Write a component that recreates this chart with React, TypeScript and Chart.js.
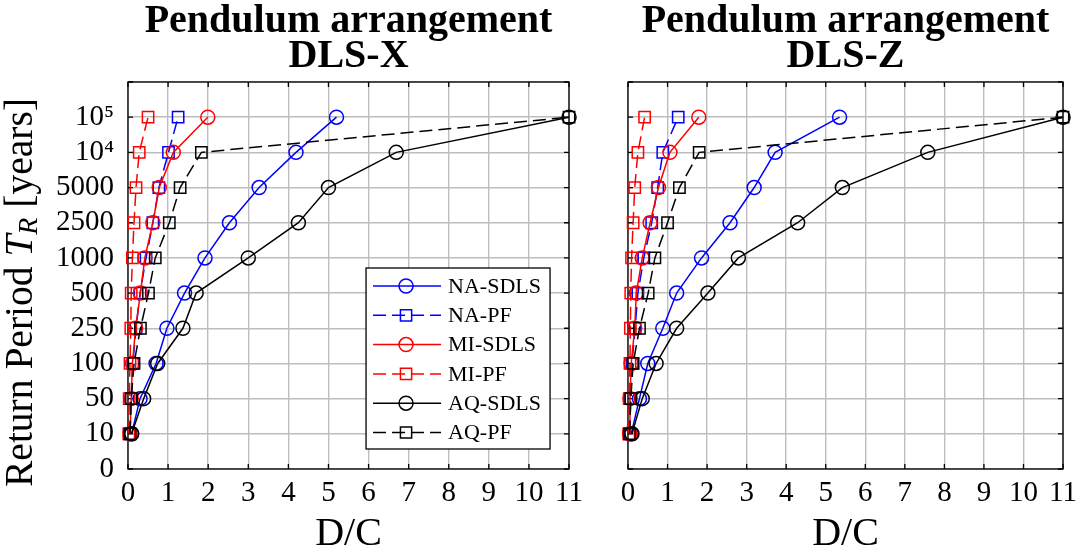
import { useEffect, useRef } from "react"
import { Chart, registerables } from "chart.js"

Chart.register(...registerables)

// return periods, bottom to top (index 0 of the axis is "0")
const periods = ["10", "50", "100", "250", "500", "1000", "2500", "5000", "10⁴", "10⁵"]
const yTickLabels = ["0", ...periods]

const seriesNames = ["NA-SDLS", "NA-PF", "MI-SDLS", "MI-PF", "AQ-SDLS", "AQ-PF"]

// D/C values, DLS-X
const naSdlsX = [0.09, 0.3, 0.7, 0.97, 1.41, 1.92, 2.53, 3.27, 4.19, 5.2]
const naPfX = [0.05, 0.08, 0.12, 0.2, 0.3, 0.45, 0.62, 0.77, 1.01, 1.25]
const miSdlsX = [0.05, 0.08, 0.11, 0.19, 0.31, 0.42, 0.62, 0.78, 1.13, 1.99]
const miPfX = [0.02, 0.03, 0.05, 0.07, 0.08, 0.11, 0.15, 0.2, 0.28, 0.5]
const aqSdlsX = [0.09, 0.39, 0.74, 1.37, 1.7, 3.0, 4.25, 5.0, 6.69, 11.0]
const aqPfX = [0.05, 0.08, 0.15, 0.31, 0.51, 0.68, 1.03, 1.3, 1.83, 11.0]

// D/C values, DLS-Z
const naSdlsZ = [0.08, 0.29, 0.5, 0.88, 1.23, 1.86, 2.58, 3.19, 3.72, 5.35]
const naPfZ = [0.04, 0.07, 0.1, 0.18, 0.25, 0.4, 0.6, 0.75, 0.88, 1.27]
const miSdlsZ = [0.04, 0.05, 0.08, 0.17, 0.21, 0.36, 0.56, 0.77, 1.06, 1.79]
const miPfZ = [0.02, 0.03, 0.05, 0.06, 0.07, 0.09, 0.13, 0.17, 0.25, 0.42]
const aqSdlsZ = [0.1, 0.36, 0.71, 1.23, 2.02, 2.79, 4.29, 5.42, 7.58, 11.0]
const aqPfZ = [0.04, 0.07, 0.13, 0.29, 0.51, 0.68, 1.0, 1.3, 1.8, 11.0]

const SERIF = '"Liberation Serif", "Times New Roman", serif'
const GRID = "#bdbdbd"
const DASH = [13, 6]

const styles = [
  { color: "#0000ff", dash: [] as number[], point: "circle" },
  { color: "#0000ff", dash: DASH, point: "rect" },
  { color: "#ff0000", dash: [] as number[], point: "circle" },
  { color: "#ff0000", dash: DASH, point: "rect" },
  { color: "#000000", dash: [] as number[], point: "circle" },
  { color: "#000000", dash: DASH, point: "rect" },
]

function drawMarker(ctx: CanvasRenderingContext2D, kind: string, x: number, y: number) {
  ctx.beginPath()
  if (kind === "circle") {
    ctx.arc(x, y, 7, 0, Math.PI * 2)
  } else {
    ctx.rect(x - 5.6, y - 5.6, 11.2, 11.2)
  }
  ctx.stroke()
}

function makeDecor(title: string[], showYLabel: boolean, showLegend: boolean) {
  return {
    id: "decor",
    beforeDatasetsDraw(chart: any) {
      const { ctx, chartArea: ca, scales } = chart
      ctx.save()
      ctx.strokeStyle = "#000"
      ctx.lineWidth = 1.3
      ctx.beginPath()
      // inward tick marks on all four sides
      for (let i = 0; i <= 11; i++) {
        const px = scales.x.getPixelForValue(i)
        ctx.moveTo(px, ca.bottom)
        ctx.lineTo(px, ca.bottom - 5)
        ctx.moveTo(px, ca.top)
        ctx.lineTo(px, ca.top + 5)
        const py = scales.y.getPixelForValue(i)
        ctx.moveTo(ca.left, py)
        ctx.lineTo(ca.left + 5, py)
        ctx.moveTo(ca.right, py)
        ctx.lineTo(ca.right - 5, py)
      }
      ctx.stroke()
      ctx.strokeRect(ca.left, ca.top, ca.right - ca.left, ca.bottom - ca.top)
      ctx.restore()
    },
    afterDraw(chart: any) {
      const { ctx, chartArea: ca } = chart
      const cx = (ca.left + ca.right) / 2
      ctx.save()
      ctx.fillStyle = "#000"
      ctx.textBaseline = "alphabetic"
      ctx.textAlign = "center"
      ctx.font = `bold 40px ${SERIF}`
      ctx.fillText(title[0], cx, 32)
      ctx.fillText(title[1], cx, 67)

      ctx.font = `40px ${SERIF}`
      ctx.fillText("D/C", cx, 545)

      if (showYLabel) {
        ctx.save()
        ctx.translate(32, 487)
        ctx.rotate(-Math.PI / 2)
        ctx.textAlign = "left"
        let x = 0
        ctx.font = `39.5px ${SERIF}`
        ctx.fillText("Return Period ", x, 0)
        x += ctx.measureText("Return Period ").width
        ctx.font = `italic 39.5px ${SERIF}`
        ctx.fillText("T", x, 0)
        x += ctx.measureText("T").width
        ctx.font = `italic 28px ${SERIF}`
        ctx.fillText("R", x, 5)
        x += ctx.measureText("R").width
        ctx.font = `39.5px ${SERIF}`
        ctx.fillText(" [years]", x, 0)
        ctx.restore()
      }

      if (showLegend) {
        const lx = ca.right - 203
        const ly = ca.bottom - 201
        const lw = 184
        const lh = 181
        ctx.fillStyle = "#fff"
        ctx.fillRect(lx, ly, lw, lh)
        ctx.strokeStyle = "#000"
        ctx.lineWidth = 1.3
        ctx.strokeRect(lx, ly, lw, lh)
        ctx.textAlign = "left"
        ctx.textBaseline = "middle"
        ctx.font = `22px ${SERIF}`
        seriesNames.forEach((name, k) => {
          const cy = ly + 18 + k * 29.3
          const st = styles[k]
          ctx.strokeStyle = st.color
          ctx.lineWidth = 1.5
          ctx.setLineDash(st.dash)
          ctx.beginPath()
          ctx.moveTo(lx + 7, cy)
          ctx.lineTo(lx + 75, cy)
          ctx.stroke()
          ctx.setLineDash([])
          drawMarker(ctx, st.point, lx + 40, cy)
          ctx.fillStyle = "#000"
          ctx.fillText(name, lx + 82, cy + 1)
        })
      }
      ctx.restore()
    },
  }
}

interface PanelProps {
  title: string[]
  series: number[][]
  left: number
  width: number
  yWidth: number
  padRight: number
  showYAxis: boolean
  showLegend: boolean
}

function Panel({ title, series, left, width, yWidth, padRight, showYAxis, showLegend }: PanelProps) {
  const canvasRef = useRef<HTMLCanvasElement>(null)

  useEffect(() => {
    if (!canvasRef.current) return
    const ctx = canvasRef.current.getContext("2d")
    if (!ctx) return

    const chart = new Chart(ctx, {
      type: "line",
      data: {
        datasets: series.map((vals, k) => ({
          label: seriesNames[k],
          data: vals.map((v, i) => ({ x: v, y: yTickLabels.indexOf(periods[i]) })),
          borderColor: styles[k].color,
          borderWidth: 1.5,
          borderDash: styles[k].dash,
          pointStyle: styles[k].point,
          pointRadius: styles[k].point === "circle" ? 7 : 8,
          pointBorderWidth: 1.5,
          pointBorderColor: styles[k].color,
          pointBackgroundColor: "rgba(0,0,0,0)",
          fill: false,
          tension: 0,
          clip: false,
          order: series.length - k,
        })),
      },
      options: {
        animation: false,
        responsive: true,
        maintainAspectRatio: false,
        layout: { padding: { top: 82, right: padRight, left: 0, bottom: 0 }, autoPadding: false },
        plugins: {
          legend: { display: false },
          tooltip: { enabled: false },
        },
        scales: {
          x: {
            type: "linear",
            min: 0,
            max: 11,
            ticks: {
              stepSize: 1,
              autoSkip: false,
              maxRotation: 0,
              color: "#000",
              padding: 7,
              font: { family: SERIF, size: 29 },
            },
            grid: { color: GRID, lineWidth: 1.4, drawTicks: false },
            border: { display: false },
            afterFit: (scale: any) => {
              scale.height = 80
            },
          },
          y: {
            type: "linear",
            min: 0,
            max: 11,
            ticks: {
              display: showYAxis,
              stepSize: 1,
              autoSkip: false,
              color: "#000",
              padding: 14,
              font: { family: SERIF, size: 29 },
              callback: (value: any) => yTickLabels[value] ?? "",
            },
            grid: { color: GRID, lineWidth: 1.4, drawTicks: false },
            border: { display: false },
            afterFit: (scale: any) => {
              scale.width = yWidth
            },
          },
        },
      },
      plugins: [makeDecor(title, showYAxis, showLegend)],
    } as any)

    return () => {
      chart.destroy()
    }
  }, [title, series, yWidth, padRight, showYAxis, showLegend])

  return (
    <div style={{ position: "absolute", left, top: 0, width, height: 549 }}>
      <canvas ref={canvasRef} />
    </div>
  )
}

const titleX = ["Pendulum arrangement", "DLS-X"]
const titleZ = ["Pendulum arrangement", "DLS-Z"]
const seriesX = [naSdlsX, naPfX, miSdlsX, miPfX, aqSdlsX, aqPfX]
const seriesZ = [naSdlsZ, naPfZ, miSdlsZ, miPfZ, aqSdlsZ, aqPfZ]

export default function App() {
  return (
    <div style={{ position: "fixed", left: 0, top: 0, width: 1084, height: 549, background: "#fff" }}>
      <Panel
        title={titleX}
        series={seriesX}
        left={0}
        width={590}
        yWidth={128}
        padRight={12}
        showYAxis={true}
        showLegend={true}
      />
      <Panel
        title={titleZ}
        series={seriesZ}
        left={590}
        width={494}
        yWidth={38}
        padRight={14}
        showYAxis={false}
        showLegend={false}
      />
    </div>
  )
}
